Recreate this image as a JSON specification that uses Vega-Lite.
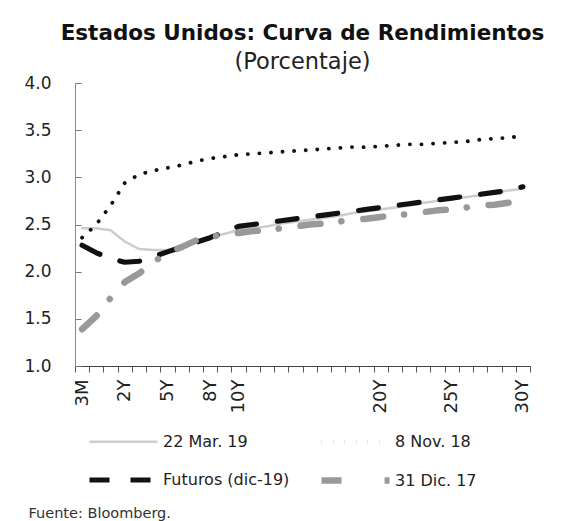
{
  "$schema": "https://vega.github.io/schema/vega-lite/v6.json",
  "width": 455,
  "height": 283,
  "autosize": {"type": "none"},
  "padding": {"left": 75, "top": 83, "right": 53, "bottom": 155},
  "background": "white",
  "title": {
    "text": "Estados Unidos: Curva de Rendimientos",
    "subtitle": "(Porcentaje)",
    "anchor": "middle",
    "font": "DejaVu Sans",
    "fontSize": 21.5,
    "fontWeight": "bold",
    "color": "#111111",
    "subtitleFont": "DejaVu Sans",
    "subtitleFontSize": 22.5,
    "subtitleColor": "#222222",
    "subtitlePadding": 6,
    "offset": 1
  },
  "config": {
    "view": {"stroke": null},
    "font": "DejaVu Sans"
  },
  "data": {
    "values": [
      {"plazo": "3M", "serie": "22 Mar. 19", "valor": 2.46},
      {"plazo": "6M", "serie": "22 Mar. 19", "valor": 2.46},
      {"plazo": "1Y", "serie": "22 Mar. 19", "valor": 2.44},
      {"plazo": "2Y", "serie": "22 Mar. 19", "valor": 2.32},
      {"plazo": "3Y", "serie": "22 Mar. 19", "valor": 2.24},
      {"plazo": "4Y", "serie": "22 Mar. 19", "valor": 2.23},
      {"plazo": "5Y", "serie": "22 Mar. 19", "valor": 2.23},
      {"plazo": "6Y", "serie": "22 Mar. 19", "valor": 2.27},
      {"plazo": "7Y", "serie": "22 Mar. 19", "valor": 2.32},
      {"plazo": "8Y", "serie": "22 Mar. 19", "valor": 2.36},
      {"plazo": "9Y", "serie": "22 Mar. 19", "valor": 2.40},
      {"plazo": "10Y", "serie": "22 Mar. 19", "valor": 2.44},
      {"plazo": "11Y", "serie": "22 Mar. 19", "valor": 2.46},
      {"plazo": "12Y", "serie": "22 Mar. 19", "valor": 2.48},
      {"plazo": "13Y", "serie": "22 Mar. 19", "valor": 2.51},
      {"plazo": "14Y", "serie": "22 Mar. 19", "valor": 2.53},
      {"plazo": "15Y", "serie": "22 Mar. 19", "valor": 2.55},
      {"plazo": "16Y", "serie": "22 Mar. 19", "valor": 2.57},
      {"plazo": "17Y", "serie": "22 Mar. 19", "valor": 2.59},
      {"plazo": "18Y", "serie": "22 Mar. 19", "valor": 2.62},
      {"plazo": "19Y", "serie": "22 Mar. 19", "valor": 2.64},
      {"plazo": "20Y", "serie": "22 Mar. 19", "valor": 2.66},
      {"plazo": "21Y", "serie": "22 Mar. 19", "valor": 2.68},
      {"plazo": "22Y", "serie": "22 Mar. 19", "valor": 2.70},
      {"plazo": "23Y", "serie": "22 Mar. 19", "valor": 2.73},
      {"plazo": "24Y", "serie": "22 Mar. 19", "valor": 2.75},
      {"plazo": "25Y", "serie": "22 Mar. 19", "valor": 2.77},
      {"plazo": "26Y", "serie": "22 Mar. 19", "valor": 2.79},
      {"plazo": "27Y", "serie": "22 Mar. 19", "valor": 2.81},
      {"plazo": "28Y", "serie": "22 Mar. 19", "valor": 2.84},
      {"plazo": "29Y", "serie": "22 Mar. 19", "valor": 2.86},
      {"plazo": "30Y", "serie": "22 Mar. 19", "valor": 2.88},

      {"plazo": "3M", "serie": "8 Nov. 18", "valor": 2.36},
      {"plazo": "6M", "serie": "8 Nov. 18", "valor": 2.50},
      {"plazo": "1Y", "serie": "8 Nov. 18", "valor": 2.70},
      {"plazo": "2Y", "serie": "8 Nov. 18", "valor": 2.94},
      {"plazo": "3Y", "serie": "8 Nov. 18", "valor": 3.03},
      {"plazo": "4Y", "serie": "8 Nov. 18", "valor": 3.07},
      {"plazo": "5Y", "serie": "8 Nov. 18", "valor": 3.10},
      {"plazo": "6Y", "serie": "8 Nov. 18", "valor": 3.13},
      {"plazo": "7Y", "serie": "8 Nov. 18", "valor": 3.17},
      {"plazo": "8Y", "serie": "8 Nov. 18", "valor": 3.20},
      {"plazo": "9Y", "serie": "8 Nov. 18", "valor": 3.22},
      {"plazo": "10Y", "serie": "8 Nov. 18", "valor": 3.24},
      {"plazo": "11Y", "serie": "8 Nov. 18", "valor": 3.25},
      {"plazo": "12Y", "serie": "8 Nov. 18", "valor": 3.26},
      {"plazo": "13Y", "serie": "8 Nov. 18", "valor": 3.27},
      {"plazo": "14Y", "serie": "8 Nov. 18", "valor": 3.28},
      {"plazo": "15Y", "serie": "8 Nov. 18", "valor": 3.29},
      {"plazo": "16Y", "serie": "8 Nov. 18", "valor": 3.30},
      {"plazo": "17Y", "serie": "8 Nov. 18", "valor": 3.31},
      {"plazo": "18Y", "serie": "8 Nov. 18", "valor": 3.32},
      {"plazo": "19Y", "serie": "8 Nov. 18", "valor": 3.32},
      {"plazo": "20Y", "serie": "8 Nov. 18", "valor": 3.33},
      {"plazo": "21Y", "serie": "8 Nov. 18", "valor": 3.34},
      {"plazo": "22Y", "serie": "8 Nov. 18", "valor": 3.35},
      {"plazo": "23Y", "serie": "8 Nov. 18", "valor": 3.35},
      {"plazo": "24Y", "serie": "8 Nov. 18", "valor": 3.36},
      {"plazo": "25Y", "serie": "8 Nov. 18", "valor": 3.37},
      {"plazo": "26Y", "serie": "8 Nov. 18", "valor": 3.38},
      {"plazo": "27Y", "serie": "8 Nov. 18", "valor": 3.40},
      {"plazo": "28Y", "serie": "8 Nov. 18", "valor": 3.41},
      {"plazo": "29Y", "serie": "8 Nov. 18", "valor": 3.42},
      {"plazo": "30Y", "serie": "8 Nov. 18", "valor": 3.44},

      {"plazo": "3M", "serie": "Futuros (dic-19)", "valor": 2.28},
      {"plazo": "6M", "serie": "Futuros (dic-19)", "valor": 2.20},
      {"plazo": "1Y", "serie": "Futuros (dic-19)", "valor": 2.14},
      {"plazo": "2Y", "serie": "Futuros (dic-19)", "valor": 2.10},
      {"plazo": "3Y", "serie": "Futuros (dic-19)", "valor": 2.11},
      {"plazo": "4Y", "serie": "Futuros (dic-19)", "valor": 2.16},
      {"plazo": "5Y", "serie": "Futuros (dic-19)", "valor": 2.21},
      {"plazo": "6Y", "serie": "Futuros (dic-19)", "valor": 2.26},
      {"plazo": "7Y", "serie": "Futuros (dic-19)", "valor": 2.31},
      {"plazo": "8Y", "serie": "Futuros (dic-19)", "valor": 2.36},
      {"plazo": "9Y", "serie": "Futuros (dic-19)", "valor": 2.42},
      {"plazo": "10Y", "serie": "Futuros (dic-19)", "valor": 2.48},
      {"plazo": "11Y", "serie": "Futuros (dic-19)", "valor": 2.50},
      {"plazo": "12Y", "serie": "Futuros (dic-19)", "valor": 2.52},
      {"plazo": "13Y", "serie": "Futuros (dic-19)", "valor": 2.54},
      {"plazo": "14Y", "serie": "Futuros (dic-19)", "valor": 2.56},
      {"plazo": "15Y", "serie": "Futuros (dic-19)", "valor": 2.58},
      {"plazo": "16Y", "serie": "Futuros (dic-19)", "valor": 2.60},
      {"plazo": "17Y", "serie": "Futuros (dic-19)", "valor": 2.62},
      {"plazo": "18Y", "serie": "Futuros (dic-19)", "valor": 2.64},
      {"plazo": "19Y", "serie": "Futuros (dic-19)", "valor": 2.66},
      {"plazo": "20Y", "serie": "Futuros (dic-19)", "valor": 2.68},
      {"plazo": "21Y", "serie": "Futuros (dic-19)", "valor": 2.70},
      {"plazo": "22Y", "serie": "Futuros (dic-19)", "valor": 2.72},
      {"plazo": "23Y", "serie": "Futuros (dic-19)", "valor": 2.74},
      {"plazo": "24Y", "serie": "Futuros (dic-19)", "valor": 2.76},
      {"plazo": "25Y", "serie": "Futuros (dic-19)", "valor": 2.78},
      {"plazo": "26Y", "serie": "Futuros (dic-19)", "valor": 2.80},
      {"plazo": "27Y", "serie": "Futuros (dic-19)", "valor": 2.82},
      {"plazo": "28Y", "serie": "Futuros (dic-19)", "valor": 2.84},
      {"plazo": "29Y", "serie": "Futuros (dic-19)", "valor": 2.86},
      {"plazo": "30Y", "serie": "Futuros (dic-19)", "valor": 2.90},

      {"plazo": "3M", "serie": "31 Dic. 17", "valor": 1.39},
      {"plazo": "6M", "serie": "31 Dic. 17", "valor": 1.53},
      {"plazo": "1Y", "serie": "31 Dic. 17", "valor": 1.72},
      {"plazo": "2Y", "serie": "31 Dic. 17", "valor": 1.89},
      {"plazo": "3Y", "serie": "31 Dic. 17", "valor": 1.98},
      {"plazo": "4Y", "serie": "31 Dic. 17", "valor": 2.10},
      {"plazo": "5Y", "serie": "31 Dic. 17", "valor": 2.20},
      {"plazo": "6Y", "serie": "31 Dic. 17", "valor": 2.26},
      {"plazo": "7Y", "serie": "31 Dic. 17", "valor": 2.33},
      {"plazo": "8Y", "serie": "31 Dic. 17", "valor": 2.37},
      {"plazo": "9Y", "serie": "31 Dic. 17", "valor": 2.39},
      {"plazo": "10Y", "serie": "31 Dic. 17", "valor": 2.41},
      {"plazo": "11Y", "serie": "31 Dic. 17", "valor": 2.43},
      {"plazo": "12Y", "serie": "31 Dic. 17", "valor": 2.44},
      {"plazo": "13Y", "serie": "31 Dic. 17", "valor": 2.46},
      {"plazo": "14Y", "serie": "31 Dic. 17", "valor": 2.48},
      {"plazo": "15Y", "serie": "31 Dic. 17", "valor": 2.50},
      {"plazo": "16Y", "serie": "31 Dic. 17", "valor": 2.51},
      {"plazo": "17Y", "serie": "31 Dic. 17", "valor": 2.53},
      {"plazo": "18Y", "serie": "31 Dic. 17", "valor": 2.55},
      {"plazo": "19Y", "serie": "31 Dic. 17", "valor": 2.56},
      {"plazo": "20Y", "serie": "31 Dic. 17", "valor": 2.58},
      {"plazo": "21Y", "serie": "31 Dic. 17", "valor": 2.60},
      {"plazo": "22Y", "serie": "31 Dic. 17", "valor": 2.61},
      {"plazo": "23Y", "serie": "31 Dic. 17", "valor": 2.63},
      {"plazo": "24Y", "serie": "31 Dic. 17", "valor": 2.65},
      {"plazo": "25Y", "serie": "31 Dic. 17", "valor": 2.66},
      {"plazo": "26Y", "serie": "31 Dic. 17", "valor": 2.68},
      {"plazo": "27Y", "serie": "31 Dic. 17", "valor": 2.70},
      {"plazo": "28Y", "serie": "31 Dic. 17", "valor": 2.71},
      {"plazo": "29Y", "serie": "31 Dic. 17", "valor": 2.73},
      {"plazo": "30Y", "serie": "31 Dic. 17", "valor": 2.74}
    ]
  },
  "mark": {"type": "line", "strokeCap": "round", "strokeJoin": "round"},
  "encoding": {
    "x": {
      "field": "plazo",
      "type": "ordinal",
      "bandPosition": 0.5,
      "sort": ["3M","6M","1Y","2Y","3Y","4Y","5Y","6Y","7Y","8Y","9Y","10Y","11Y","12Y","13Y","14Y","15Y","16Y","17Y","18Y","19Y","20Y","21Y","22Y","23Y","24Y","25Y","26Y","27Y","28Y","29Y","30Y"],
      "scale": {"type": "band", "paddingInner": 0, "paddingOuter": 0},
      "axis": {
        "title": "Fuente: Bloomberg.",
        "titleFont": "DejaVu Sans",
        "titleFontSize": 14.5,
        "titleFontWeight": "normal",
        "titleColor": "#333333",
        "titleAnchor": "start",
        "titleAlign": "left",
        "titleBaseline": "middle",
        "titleX": -47,
        "titleY": 147,
        "labelAngle": -90,
        "labelAlign": "right",
        "labelBaseline": "middle",
        "labelFontSize": 18,
        "labelColor": "#222222",
        "labelPadding": 7,
        "labelExpr": "indexof(['3M','2Y','5Y','8Y','10Y','20Y','25Y','30Y'], datum.label) >= 0 ? datum.label : ''",
        "tickBand": "extent",
        "tickSize": 6,
        "tickColor": "#555555",
        "domainColor": "#444444",
        "grid": false
      }
    },
    "y": {
      "field": "valor",
      "type": "quantitative",
      "scale": {"domain": [1, 4], "nice": false, "zero": false},
      "axis": {
        "title": null,
        "values": [1, 1.5, 2, 2.5, 3, 3.5, 4],
        "format": ".1f",
        "labelFontSize": 17,
        "labelColor": "#222222",
        "tickSize": -6,
        "labelPadding": 30,
        "tickColor": "#777777",
        "domainColor": "#888888",
        "grid": false
      }
    },
    "color": {
      "field": "serie",
      "type": "nominal",
      "scale": {
        "domain": ["22 Mar. 19", "8 Nov. 18", "Futuros (dic-19)", "31 Dic. 17"],
        "range": ["#cdcdcd", "#111111", "#111111", "#999999"]
      },
      "legend": {
        "orient": "none",
        "legendX": 11,
        "legendY": 349,
        "direction": "horizontal",
        "columns": 2,
        "columnPadding": 18,
        "rowPadding": 17,
        "title": null,
        "symbolType": "M-1,0H7.5",
        "symbolSize": 256,
        "symbolFillColor": "transparent",
        "symbolStrokeWidth": 5,
        "labelFontSize": 16,
        "labelColor": "#222222",
        "labelOffset": 54
      }
    },
    "strokeDash": {
      "field": "serie",
      "type": "nominal",
      "scale": {
        "domain": ["22 Mar. 19", "8 Nov. 18", "Futuros (dic-19)", "31 Dic. 17"],
        "range": [[1, 0], [0.1, 11.5], [20, 21], [20, 21, 0.1, 22]]
      },
      "legend": null
    },
    "strokeWidth": {
      "field": "serie",
      "type": "nominal",
      "scale": {
        "domain": ["22 Mar. 19", "8 Nov. 18", "Futuros (dic-19)", "31 Dic. 17"],
        "range": [2.5, 6.5, 5.5, 5]
      },
      "legend": null
    }
  }
}
